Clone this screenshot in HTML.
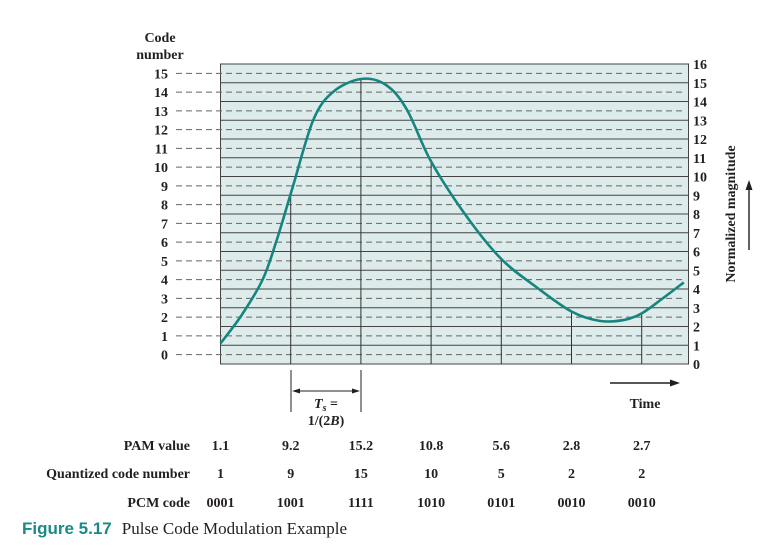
<!DOCTYPE html>
<html><head><meta charset="utf-8"><style>
html,body{margin:0;padding:0;background:#fff;}
svg{display:block;}
text{font-family:"Liberation Serif",serif;fill:#231f20;}
.b{font-weight:bold;font-size:14px;}
</style></head><body>
<svg id="chart" width="776" height="555" viewBox="0 0 776 555" xmlns="http://www.w3.org/2000/svg">
<rect x="220.5" y="64" width="468" height="300" fill="#ddeceb" stroke="#444" stroke-width="1"/>
<g id="grid"></g>
<g id="samples"></g>
<path id="curve" fill="none" stroke="#16857f" stroke-width="2.6"/>
<g id="leftAxis"></g>
<g id="rightAxis"></g>
<text class="b" x="160" y="42" text-anchor="middle">Code</text>
<text class="b" x="160" y="59" text-anchor="middle">number</text>
<text class="b" transform="translate(735,214) rotate(-90)" text-anchor="middle">Normalized magnitude</text>
<g><line x1="749" y1="250" x2="749" y2="186" stroke="#231f20" stroke-width="1.4"/><polygon points="749,180 745.5,190 752.5,190" fill="#231f20"/></g>
<g><line x1="610" y1="383" x2="672" y2="383" stroke="#231f20" stroke-width="1.4"/><polygon points="680,383 670,379.5 670,386.5" fill="#231f20"/></g>
<text class="b" x="645" y="408" text-anchor="middle">Time</text>
<g>
<line x1="291" y1="370" x2="291" y2="412" stroke="#231f20"/><line x1="361" y1="370" x2="361" y2="412" stroke="#231f20"/>
<line x1="296" y1="391" x2="356" y2="391" stroke="#231f20"/>
<polygon points="292,391 300,388.5 300,393.5" fill="#231f20"/><polygon points="360,391 352,388.5 352,393.5" fill="#231f20"/>
<text class="b" x="326" y="408" text-anchor="middle"><tspan font-style="italic">T</tspan><tspan font-style="italic" font-size="10" dy="3">s</tspan><tspan dy="-3"> =</tspan></text>
<text class="b" x="326" y="425" text-anchor="middle">1/(2<tspan font-style="italic">B</tspan>)</text>
</g>
<g id="rows">
<text class="b" x="190" y="450" text-anchor="end">PAM value</text>
<text class="b" x="190" y="478" text-anchor="end">Quantized code number</text>
<text class="b" x="190" y="507" text-anchor="end">PCM code</text>
</g>
<text x="22" y="534" font-size="17"><tspan font-family="Liberation Sans, sans-serif" font-weight="bold" style="fill:#1a8a86">Figure 5.17</tspan><tspan dx="10" font-family="Liberation Serif, serif">Pulse Code Modulation Example</tspan></text>
</svg>
<script>
const sampleTimes=[0,1,2,3,4,5,6];
const pamValues=[1.1,9.2,15.2,10.8,5.6,2.8,2.7];
const quantCodes=[1,9,15,10,5,2,2];
const pcmCodes=["0001","1001","1111","1010","0101","0010","0010"];
const curveTimes=[0,0.3,0.6,0.8,1.03,1.32,1.6,2,2.35,2.65,3,3.5,4,4.5,5,5.4,5.75,6,6.3,6.6];
const curveValues=[1.1,2.6,4.5,6.6,9.45,13.0,14.5,15.2,14.9,13.6,10.8,7.9,5.6,4.1,2.8,2.3,2.35,2.7,3.5,4.35];
const codeTicks=[0,1,2,3,4,5,6,7,8,9,10,11,12,13,14,15];
const magTicks=[0,1,2,3,4,5,6,7,8,9,10,11,12,13,14,15,16];
const NS='http://www.w3.org/2000/svg';
const X=t=>220.5+t*70.2, Y=v=>364-v*18.75;
function mk(tag,attrs,parent){const e=document.createElementNS(NS,tag);for(const k in attrs)e.setAttribute(k,attrs[k]);parent.appendChild(e);return e;}
const grid=document.getElementById('grid');
magTicks.forEach(m=>{if(m>0&&m<16){const l=mk('line',{x1:220.5,x2:688.5,y1:Y(m),y2:Y(m),stroke:'#444','stroke-width':1},grid);

}});
codeTicks.forEach(c=>{const l=mk('line',{x1:176,x2:686,y1:Y(c+0.5),y2:Y(c+0.5),stroke:'#666','stroke-width':1,'stroke-dasharray':'6,4'},grid);

});
const la=document.getElementById('leftAxis');
codeTicks.forEach(c=>{const t=mk('text',{x:168,y:Y(c+0.5)+5,'text-anchor':'end',class:'b'},la);t.textContent=c;

});
const ra=document.getElementById('rightAxis');
magTicks.forEach(m=>{const t=mk('text',{x:693,y:Y(m)+5,class:'b'},ra);t.textContent=m;

});
const sg=document.getElementById('samples');
sampleTimes.forEach((t,i)=>{if(i===0)return;const l=mk('line',{x1:X(t),x2:X(t),y1:Y(pamValues[i]),y2:364,stroke:'#333','stroke-width':1},sg);

});
const P=curveTimes.map((t,i)=>[X(t),Y(curveValues[i])]);
let d='M'+P[0][0]+','+P[0][1];
for(let i=0;i<P.length-1;i++){const p0=P[Math.max(0,i-1)],p1=P[i],p2=P[i+1],p3=P[Math.min(P.length-1,i+2)];
d+=' C'+(p1[0]+(p2[0]-p0[0])/6)+','+(p1[1]+(p2[1]-p0[1])/6)+' '+(p2[0]-(p3[0]-p1[0])/6)+','+(p2[1]-(p3[1]-p1[1])/6)+' '+p2[0]+','+p2[1];}
document.getElementById('curve').setAttribute('d',d);
const rows=document.getElementById('rows');
sampleTimes.forEach((t,i)=>{
const a=mk('text',{x:X(t),y:450,'text-anchor':'middle',class:'b'},rows);a.textContent=pamValues[i].toFixed(1);


const b=mk('text',{x:X(t),y:478,'text-anchor':'middle',class:'b'},rows);b.textContent=quantCodes[i];


const c=mk('text',{x:X(t),y:507,'text-anchor':'middle',class:'b'},rows);c.textContent=pcmCodes[i];

});
</script>
</body></html>
